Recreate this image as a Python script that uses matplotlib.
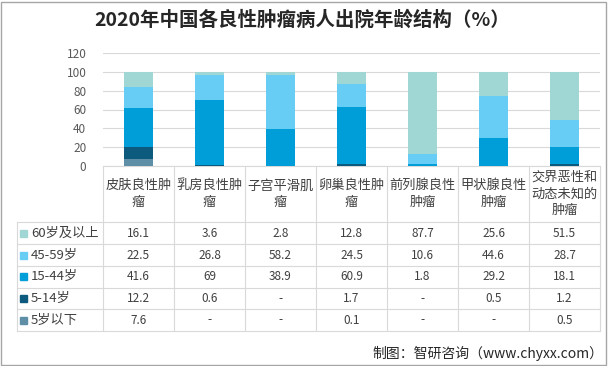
import matplotlib.pyplot as plt
import numpy as np
from matplotlib.patches import Rectangle

plt.rcParams['font.family'] = ['Noto Sans CJK SC', 'DejaVu Sans']

title = "2020年中国各良性肿瘤病人出院年龄结构（%）"
source = "制图：智研咨询（www.chyxx.com）"

categories = ["皮肤良性肿\n瘤", "乳房良性肿\n瘤", "子宫平滑肌\n瘤", "卵巢良性肿\n瘤",
              "前列腺良性\n肿瘤", "甲状腺良性\n肿瘤", "交界恶性和\n动态未知的\n肿瘤"]

# bottom to top in the stack
series_names = ["5岁以下", "5-14岁", "15-44岁", "45-59岁", "60岁及以上"]
under5 = [7.6, None, None, 0.1, None, None, 0.5]
age5_14 = [12.2, 0.6, None, 1.7, None, 0.5, 1.2]
age15_44 = [41.6, 69, 38.9, 60.9, 1.8, 29.2, 18.1]
age45_59 = [22.5, 26.8, 58.2, 24.5, 10.6, 44.6, 28.7]
age60_up = [16.1, 3.6, 2.8, 12.8, 87.7, 25.6, 51.5]
series = [under5, age5_14, age15_44, age45_59, age60_up]
colors = ["#5f8fa6", "#0c5a7d", "#009ed8", "#67cdf4", "#a0d6d4"]

W, H = 608, 366
fig = plt.figure(figsize=(W / 100, H / 100), dpi=100)

# plot area in pixels
px_left, px_right, px_top, px_bottom = 103, 600, 53, 166
ax = fig.add_axes([px_left / W, 1 - px_bottom / H, (px_right - px_left) / W, (px_bottom - px_top) / H])

x = np.arange(len(categories))
bottom = np.zeros(len(categories))
for name, vals, c in zip(series_names, series, colors):
    v = np.array([0 if a is None else a for a in vals], dtype=float)
    ax.bar(x, v, width=0.41, bottom=bottom, color=c, zorder=3)
    bottom += v

ax.set_xlim(-0.5, len(categories) - 0.5)
ax.set_ylim(0, 120)
ax.set_yticks(range(0, 121, 20))
ax.tick_params(axis='y', length=0, labelsize=8.5, labelcolor="#595959", pad=12)
ax.set_xticks([])
ax.grid(axis='y', color="#d9d9d9", linewidth=0.8, zorder=0)
for s in ["top", "right", "left"]:
    ax.spines[s].set_visible(False)
ax.spines["bottom"].set_color("#d9d9d9")

# data table underneath, y in pixel units
tl = 17
cat_w = (px_right - px_left) / len(categories)
tab = fig.add_axes([tl / W, 1 - 331 / H, (px_right - tl) / W, (331 - px_bottom) / H])
tab.set_xlim(-0.5 - (px_left - tl) / cat_w, len(categories) - 0.5)
tab.set_ylim(331, px_bottom)
tab.axis("off")
lc = "#d9d9d9"
row_y = [222, 244, 266, 287.5, 309, 331]
x0 = tab.get_xlim()[0]
for yy in row_y:
    tab.plot([x0, len(categories) - 0.5], [yy, yy], color=lc, lw=0.8, clip_on=False)
for i in range(len(categories) + 1):
    tab.plot([i - 0.5, i - 0.5], [px_bottom, 331], color=lc, lw=0.8, clip_on=False)
tab.plot([x0, x0], [222, 331], color=lc, lw=0.8, clip_on=False)

for i, cat in enumerate(categories):
    tab.text(i, 194, cat, ha="center", va="center", fontsize=9.5, color="#404040",
             linespacing=1.35)

rows = list(zip(series_names, series, colors))[::-1]
for r, (name, vals, c) in enumerate(rows):
    yc = (row_y[r] + row_y[r + 1]) / 2
    tab.add_patch(Rectangle((x0 + 3.5 / cat_w, yc - 3.5), 7 / cat_w, 7, color=c, clip_on=False))
    tab.text(x0 + 14 / cat_w, yc, name, ha="left", va="center", fontsize=9.5, color="#404040")
    for i, v in enumerate(vals):
        s = "-" if v is None else f"{v:g}"
        tab.text(i, yc, s, ha="center", va="center", fontsize=8.5, color="#404040")

fig.text(0.497, 1 - 20 / H, title, ha="center", va="center", fontsize=14,
         fontweight="bold", color="#262626")
fig.text(603 / W, 1 - 353 / H, source, ha="right", va="center", fontsize=10, color="#262626")

fig.patches.append(Rectangle((1 / W, 1 / H), 1 - 3 / W, 1 - 3 / H, transform=fig.transFigure,
                             fill=False, edgecolor="#a6a6a6", lw=1))

fig.savefig("out.png", dpi=100)
